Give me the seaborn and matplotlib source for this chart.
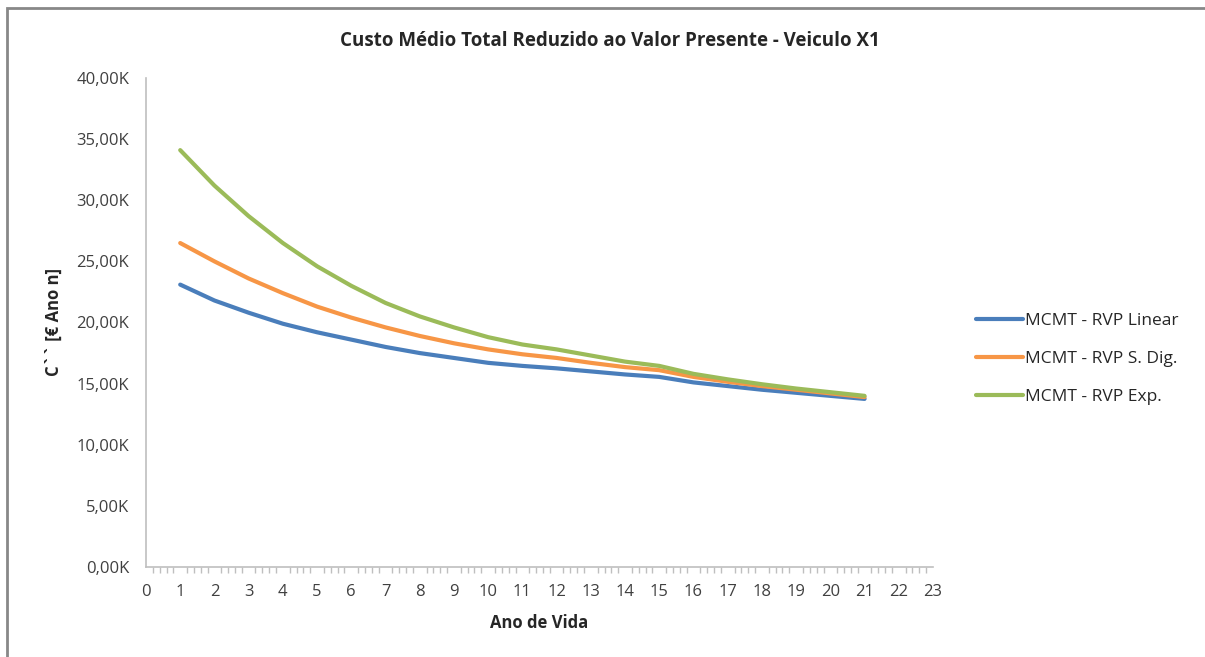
import numpy as np
import pandas as pd
import matplotlib
matplotlib.use("Agg")
import matplotlib.pyplot as plt
import seaborn as sns
from matplotlib.ticker import FuncFormatter, MultipleLocator
from matplotlib.patches import Rectangle

# values
anos = list(range(1, 22))
rvp_linear = [23.1, 21.8, 20.8, 19.9, 19.2, 18.6, 18.0, 17.5, 17.1, 16.7, 16.45,
              16.25, 16.0, 15.75, 15.55, 15.1, 14.8, 14.5, 14.25, 14.0, 13.75]
rvp_sdig = [26.5, 25.0, 23.6, 22.4, 21.3, 20.4, 19.6, 18.9, 18.3, 17.8, 17.4,
            17.1, 16.7, 16.35, 16.1, 15.55, 15.15, 14.8, 14.5, 14.2, 13.9]
rvp_exp = [34.1, 31.2, 28.7, 26.5, 24.6, 23.0, 21.6, 20.5, 19.6, 18.8, 18.2,
           17.8, 17.3, 16.8, 16.45, 15.8, 15.35, 14.95, 14.6, 14.3, 14.0]
series_names = ["MCMT - RVP Linear", "MCMT - RVP S. Dig.", "MCMT - RVP Exp."]
colors = ["#4A7EBB", "#F79646", "#9BBB59"]

df = pd.DataFrame({
    "Ano": anos * 3,
    "Valor": np.array(rvp_linear + rvp_sdig + rvp_exp) * 1000,
    "Serie": sum([[n] * len(anos) for n in series_names], []),
})

sns.set_style("white")
plt.rcParams["font.family"] = ["Open Sans", "DejaVu Sans"]

fig = plt.figure(figsize=(12.05, 6.57), dpi=100)
ax = fig.add_axes([146 / 1205, 90 / 657, 787 / 1205, 489 / 657])

sns.lineplot(data=df, x="Ano", y="Valor", hue="Serie", palette=colors,
             hue_order=series_names, linewidth=3, ax=ax, legend=False)

ax.set_xlim(0, 23)
ax.set_ylim(0, 40000)
ax.xaxis.set_major_locator(MultipleLocator(1))
ax.xaxis.set_minor_locator(MultipleLocator(0.2))
ax.yaxis.set_major_locator(MultipleLocator(5000))
ax.yaxis.set_major_formatter(FuncFormatter(lambda v, p: f"{v/1000:.2f}K".replace(".", ",")))

for s in ["top", "right"]:
    ax.spines[s].set_visible(False)
for s in ["left", "bottom"]:
    ax.spines[s].set_color("#BFBFBF")
    ax.spines[s].set_linewidth(1.2)

ax.tick_params(axis="both", which="major", direction="out", color="#BFBFBF",
               length=6, width=1, labelsize=12, labelcolor="#404040")
ax.tick_params(axis="x", which="minor", direction="out", color="#BFBFBF",
               length=4, width=1, bottom=True)
ax.tick_params(axis="x", which="major", pad=6)
ax.tick_params(axis="y", which="major", pad=6)

ax.set_xlabel("Ano de Vida", fontsize=12, fontweight="bold", labelpad=10)
ax.set_ylabel("C`` [€ Ano n]", fontsize=12, fontweight="bold", labelpad=10)
fig.text(0.506, 0.938, "Custo Médio Total Reduzido ao Valor Presente - Veiculo X1",
         ha="center", va="center", fontsize=13.5, fontweight="bold")

handles = [plt.Line2D([], [], color=c, lw=3) for c in colors]
fig.legend(handles, series_names, loc="center left", bbox_to_anchor=(0.797, 0.454),
           frameon=False, fontsize=12.5, handlelength=2.7, handletextpad=0.15,
           labelspacing=1.25, labelcolor="#262626")

# chart border
fig.patches.append(Rectangle((7 / 1205, -0.05), 1.2, (657 - 8) / 657 + 0.05,
                             transform=fig.transFigure, fill=False,
                             edgecolor="#888888", linewidth=2))

plt.savefig("out.png", dpi=100)
plt.close()
